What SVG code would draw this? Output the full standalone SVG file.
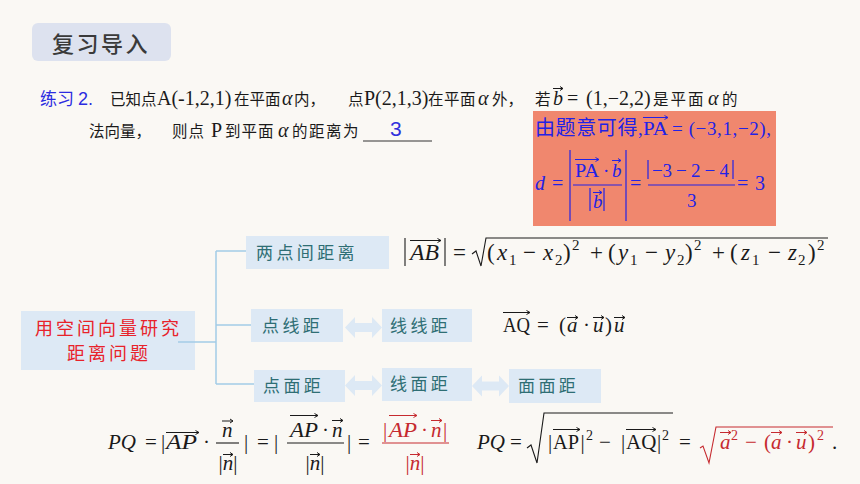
<svg xmlns="http://www.w3.org/2000/svg" width="860" height="484" viewBox="0 0 860 484">
<style>
.cjk{font-family:"Noto Sans CJK SC","Noto Sans",sans-serif}
.ser{font-family:"Liberation Serif","Noto Sans CJK SC",serif}
.zh{font-family:"Noto Sans CJK SC",sans-serif;font-size:15.5px;fill:#1a1a1a}
.lat{font-family:"Liberation Serif",serif;font-size:20px;fill:#1a1a1a}
.m{font-family:"Liberation Serif","DejaVu Serif",serif;font-size:21px;fill:#1a1a1a}
.big{font-size:23px}
.it{font-style:italic}
.sup{font-size:14px}
.sub{font-size:15px}
.blue{fill:#2222e6}
.red{fill:#c62a2f}
.nodebox{fill:#dde9f5}
.lbl{font-family:"Noto Sans CJK SC",sans-serif;font-size:17px;fill:#2e6e74;letter-spacing:3.4px}
.conn{stroke:#a3cbe6;stroke-width:1.5;fill:none}
.dbl{fill:#dde9f5}
.vec{stroke:#1a1a1a;stroke-width:1;fill:none}
.vecb{stroke:#2222e6;stroke-width:1;fill:none}
.vecr{stroke:#c62a2f;stroke-width:1;fill:none}
.rule{stroke:#1a1a1a;stroke-width:1.1;fill:none}
.ruleb{stroke:#2222e6;stroke-width:1.2;fill:none}
.ruler{stroke:#c62a2f;stroke-width:1.1;fill:none}
</style>
<rect width="860" height="484" fill="#faf8f4"/>

<g id="title">
<rect x="32" y="23" width="139" height="38" rx="6" fill="#dde2ef"/>
<text x="52" y="52" class="cjk" font-size="22" font-weight="500" fill="#3a3a3a" letter-spacing="2.5">复习导入</text>
</g>

<g id="exercise">
<text x="40" y="105" class="cjk" font-size="17" fill="#2b2be0">练习</text>
<text x="78" y="105" font-family="Liberation Sans,sans-serif" font-size="18" fill="#2b2be0">2.</text>
<text x="110" y="105" class="zh">已知点</text>
<text x="157" y="105" class="lat">A(-1,2,1)</text>
<text x="234" y="105" class="zh">在平面</text>
<text x="282" y="105" class="lat it">α</text>
<text x="294" y="105" class="zh">内，</text>
<text x="348" y="105" class="zh">点</text>
<text x="364" y="105" class="lat">P(2,1,3)</text>
<text x="428" y="105" class="zh" letter-spacing="0.5">在平面</text>
<text x="478" y="105" class="lat it">α</text>
<text x="492" y="105" class="zh">外，</text>
<text x="535" y="105" class="zh">若</text>
<text x="553" y="105" class="lat it">b</text>
<text x="567" y="105" class="lat">=</text>
<text x="586" y="105" class="lat">(1,−2,2)</text>
<text x="653" y="105" class="zh" letter-spacing="2">是平面</text>
<text x="708" y="105" class="lat it">α</text>
<text x="722" y="105" class="zh">的</text>
<text x="89" y="137" class="zh">法向量，</text>
<text x="172" y="137" class="zh" letter-spacing="1">则点</text>
<text x="211" y="137" class="lat">P</text>
<text x="225" y="137" class="zh" letter-spacing="1">到平面</text>
<text x="278" y="137" class="lat it">α</text>
<text x="292" y="137" class="zh" letter-spacing="1.5">的距离为</text>
<path class="vec" d="M553 88.5 H563 M560 86.5 L563 88.5 L560 90.5"/>
<line x1="363" y1="141" x2="432" y2="141" stroke="#333" stroke-width="1"/>
<text x="390" y="136" font-family="Liberation Sans,sans-serif" font-size="21" fill="#3030dd">3</text>
</g>

<g id="solution">
<rect x="533" y="111" width="243" height="115" fill="#f0876e"/>
<text x="535" y="135" class="cjk" font-size="20" fill="#2222e6" letter-spacing="0.6">由题意可得</text>
<text x="638" y="135" class="ser blue" font-size="19">,</text>
<text x="643" y="135" class="ser blue" font-size="19" textLength="25" lengthAdjust="spacingAndGlyphs">PA</text>
<path class="vecb" d="M643 117.5 H668 M664.5 115.5 L668 117.5 L664.5 119.5"/>
<text x="672" y="135" class="ser blue" font-size="19" textLength="99">= (−3,1,−2),</text>
<text x="535" y="190" class="ser blue it" font-size="20">d</text>
<text x="552" y="190" class="ser blue" font-size="20">=</text>
<line class="ruleb" x1="570" y1="150" x2="570" y2="221"/>
<line class="ruleb" x1="626" y1="150" x2="626" y2="221"/>
<text x="575" y="177" class="ser blue" font-size="19" textLength="24" lengthAdjust="spacingAndGlyphs">PA</text>
<path class="vecb" d="M575 159.5 H599 M595.5 157.5 L599 159.5 L595.5 161.5"/>
<text x="603" y="177" class="ser blue" font-size="19">·</text>
<text x="612" y="177" class="ser blue it" font-size="19">b</text>
<path class="vecb" d="M612 160.5 H621 M618 158.5 L621 160.5 L618 162.5"/>
<line class="ruleb" x1="573" y1="185" x2="622" y2="185"/>
<line class="ruleb" x1="590" y1="188" x2="590" y2="211"/>
<line class="ruleb" x1="604" y1="188" x2="604" y2="211"/>
<text x="593" y="208" class="ser blue it" font-size="19">b</text>
<path class="vecb" d="M593 192.5 H602 M599 190.5 L602 192.5 L599 194.5"/>
<text x="630" y="190" class="ser blue" font-size="20">=</text>
<line class="ruleb" x1="648" y1="160" x2="648" y2="179"/>
<line class="ruleb" x1="733" y1="160" x2="733" y2="179"/>
<text x="652" y="177" class="ser blue" font-size="19" textLength="77">−3 − 2 − 4</text>
<line class="ruleb" x1="648" y1="185" x2="735" y2="185"/>
<text x="687" y="207" class="ser blue" font-size="19">3</text>
<text x="737" y="190" class="ser blue" font-size="20" textLength="28">= 3</text>
</g>

<g id="connectors">
<path class="conn" d="M178 342 H216 M216 251 V384 M216 251 H246 M216 325 H251 M216 384 H254"/>
<path class="dbl" d="M345 327.5 L355 317 V323 H372 V317 L382 327.5 L372 338 V332 H355 V338 Z"/>
<path class="dbl" d="M345 385.5 L355 375 V381 H372 V375 L382 385.5 L372 396 V390 H355 V396 Z"/>
<path class="dbl" d="M472 386 L482 375.5 V381.5 H499 V375.5 L509 386 L499 396.5 V390.5 H482 V396.5 Z"/>
</g>

<g id="root">
<rect class="nodebox" x="21" y="311" width="174" height="59"/>
<text x="35" y="335" class="cjk" font-size="18" fill="#e8222a" letter-spacing="3">用空间向量研究</text>
<text x="67" y="360" class="cjk" font-size="18" fill="#e8222a" letter-spacing="3">距离问题</text>
<line class="conn" x1="178" y1="342" x2="195" y2="342"/>
</g>

<g id="n-two-points">
<rect class="nodebox" x="246" y="236" width="143" height="33"/>
<text x="256" y="259" class="lbl">两点间距离</text>
</g>
<g id="n-point-line">
<rect class="nodebox" x="251" y="309" width="92" height="33"/>
<text x="262" y="332" class="lbl">点线距</text>
</g>
<g id="n-line-line">
<rect class="nodebox" x="382" y="309" width="90" height="33"/>
<text x="390" y="332" class="lbl">线线距</text>
</g>
<g id="n-point-plane">
<rect class="nodebox" x="254" y="370" width="91" height="32"/>
<text x="263" y="392" class="lbl">点面距</text>
</g>
<g id="n-line-plane">
<rect class="nodebox" x="382" y="368" width="90" height="33"/>
<text x="390" y="390" class="lbl">线面距</text>
</g>
<g id="n-plane-plane">
<rect class="nodebox" x="509" y="369" width="92" height="34"/>
<text x="518" y="392" class="lbl">面面距</text>
</g>

<g id="formula-ab">
<line class="rule" x1="405" y1="238" x2="405" y2="266"/>
<text x="410" y="260" class="m big it" textLength="29" lengthAdjust="spacingAndGlyphs">AB</text>
<path class="vec" d="M410 240.5 H441 M437.5 238.5 L441 240.5 L437.5 242.5"/>
<line class="rule" x1="445" y1="238" x2="445" y2="266"/>
<text x="453" y="260" class="m big">=</text>
<path class="rule" d="M472 254 L476 251 L481 266 L486 238 H828"/>
<text class="m big" y="260"><tspan x="487">(</tspan><tspan x="497" class="it">x</tspan><tspan x="509" y="265" class="sub">1</tspan><tspan x="523" y="260">−</tspan><tspan x="543" class="it">x</tspan><tspan x="555" y="265" class="sub">2</tspan><tspan x="563" y="260">)</tspan><tspan x="572" y="250" class="sub">2</tspan><tspan x="590" y="260">+</tspan><tspan x="608">(</tspan><tspan x="618" class="it">y</tspan><tspan x="630" y="265" class="sub">1</tspan><tspan x="645" y="260">−</tspan><tspan x="665" class="it">y</tspan><tspan x="677" y="265" class="sub">2</tspan><tspan x="685" y="260">)</tspan><tspan x="694" y="250" class="sub">2</tspan><tspan x="712" y="260">+</tspan><tspan x="730">(</tspan><tspan x="741" class="it">z</tspan><tspan x="752" y="265" class="sub">1</tspan><tspan x="768" y="260">−</tspan><tspan x="788" class="it">z</tspan><tspan x="798" y="265" class="sub">2</tspan><tspan x="808" y="260">)</tspan><tspan x="817" y="250" class="sub">2</tspan></text>
</g>

<g id="formula-aq">
<text x="503" y="332" class="m" textLength="27" lengthAdjust="spacingAndGlyphs">AQ</text>
<path class="vec" d="M503 312.5 H530 M526.5 310.5 L530 312.5 L526.5 314.5"/>
<text x="537" y="332" class="m">=</text>
<text x="559" y="332" class="m">(</text>
<text x="567" y="332" class="m it">a</text>
<path class="vec" d="M567 317.5 H578 M575 315.5 L578 317.5 L575 319.5"/>
<text x="583" y="332" class="m">·</text>
<text x="593" y="332" class="m it">u</text>
<path class="vec" d="M593 317.5 H604 M601 315.5 L604 317.5 L601 319.5"/>
<text x="605" y="332" class="m">)</text>
<text x="614" y="332" class="m it">u</text>
<path class="vec" d="M614 317.5 H625 M622 315.5 L625 317.5 L622 319.5"/>
</g>

<g id="formula-pq1">
<text x="108" y="449" class="m it">PQ</text>
<text x="145" y="449" class="m">=</text>
<text x="161" y="449" class="m">|</text>
<text x="166" y="449" class="m it" textLength="31" lengthAdjust="spacingAndGlyphs">AP</text>
<path class="vec" d="M166 432.5 H199 M195.5 430.5 L199 432.5 L195.5 434.5"/>
<text x="203" y="449" class="m">·</text>
<text x="222" y="437" class="m it">n</text>
<path class="vec" d="M222 421 H233 M230 419 L233 421 L230 423"/>
<line class="rule" x1="216" y1="443" x2="239" y2="443"/>
<text x="228" y="470" class="m" text-anchor="middle">|<tspan class="it">n</tspan>|</text>
<path class="vec" d="M223 454.5 H233 M230 452.5 L233 454.5 L230 456.5"/>
<text x="244" y="449" class="m">|</text>
<text x="257" y="449" class="m">=</text>
<text x="274" y="449" class="m">|</text>
<text x="290" y="437" class="m it" textLength="28" lengthAdjust="spacingAndGlyphs">AP</text>
<path class="vec" d="M290 415.5 H318 M314.5 413.5 L318 415.5 L314.5 417.5"/>
<text x="322" y="437" class="m">·</text>
<text x="332" y="437" class="m it">n</text>
<path class="vec" d="M332 420.5 H343 M340 418.5 L343 420.5 L340 422.5"/>
<line class="rule" x1="287" y1="443" x2="344" y2="443"/>
<text x="315" y="470" class="m" text-anchor="middle">|<tspan class="it">n</tspan>|</text>
<path class="vec" d="M310 454.5 H320 M317 452.5 L320 454.5 L317 456.5"/>
<text x="347" y="449" class="m">|</text>
<text x="358" y="449" class="m">=</text>
<text x="383" y="437" class="m red">|</text>
<text x="389" y="437" class="m red it" textLength="28" lengthAdjust="spacingAndGlyphs">AP</text>
<path class="vecr" d="M389 415.5 H417 M413.5 413.5 L417 415.5 L413.5 417.5"/>
<text x="421" y="437" class="m red">·</text>
<text x="431" y="437" class="m red it">n</text>
<path class="vecr" d="M431 420.5 H442 M439 418.5 L442 420.5 L439 422.5"/>
<text x="443" y="437" class="m red">|</text>
<line class="ruler" x1="382" y1="443" x2="449" y2="443"/>
<text x="415" y="470" class="m red" text-anchor="middle">|<tspan class="it">n</tspan>|</text>
<path class="vecr" d="M410 454.5 H420 M417 452.5 L420 454.5 L417 456.5"/>
</g>

<g id="formula-pq2">
<text x="477" y="449" class="m it">PQ</text>
<text x="510" y="449" class="m">=</text>
<path class="rule" d="M527 448 L531 445 L537 463 L544 413 H673"/>
<text x="548" y="449" class="m">|</text>
<text x="553" y="449" class="m" textLength="26" lengthAdjust="spacingAndGlyphs">AP</text>
<path class="vec" d="M553 429.5 H580 M576.5 427.5 L580 429.5 L576.5 431.5"/>
<text x="580.5" y="449" class="m">|</text>
<text x="586" y="440" class="m sup">2</text>
<text x="599" y="449" class="m">−</text>
<text x="621" y="449" class="m">|</text>
<text x="626" y="449" class="m">AQ</text>
<path class="vec" d="M626 429.5 H656 M652.5 427.5 L656 429.5 L652.5 431.5"/>
<text x="657" y="449" class="m">|</text>
<text x="662" y="440" class="m sup">2</text>
<text x="679" y="449" class="m">=</text>
<path class="ruler" d="M700 448 L703 446 L709 463 L716 427 H833"/>
<text x="720" y="449" class="m red it">a</text>
<path class="vecr" d="M720 432.5 H731 M728 430.5 L731 432.5 L728 434.5"/>
<text x="731" y="440" class="m red sup">2</text>
<text x="745" y="449" class="m red">−</text>
<text x="764" y="449" class="m red">(</text>
<text x="771" y="449" class="m red it">a</text>
<path class="vecr" d="M771 432.5 H782 M779 430.5 L782 432.5 L779 434.5"/>
<text x="786" y="449" class="m red">·</text>
<text x="796" y="449" class="m red it">u</text>
<path class="vecr" d="M796 432.5 H807 M804 430.5 L807 432.5 L804 434.5"/>
<text x="808" y="449" class="m red">)</text>
<text x="817" y="440" class="m red sup">2</text>
<text x="832" y="449" class="m">.</text>
</g>
</svg>
